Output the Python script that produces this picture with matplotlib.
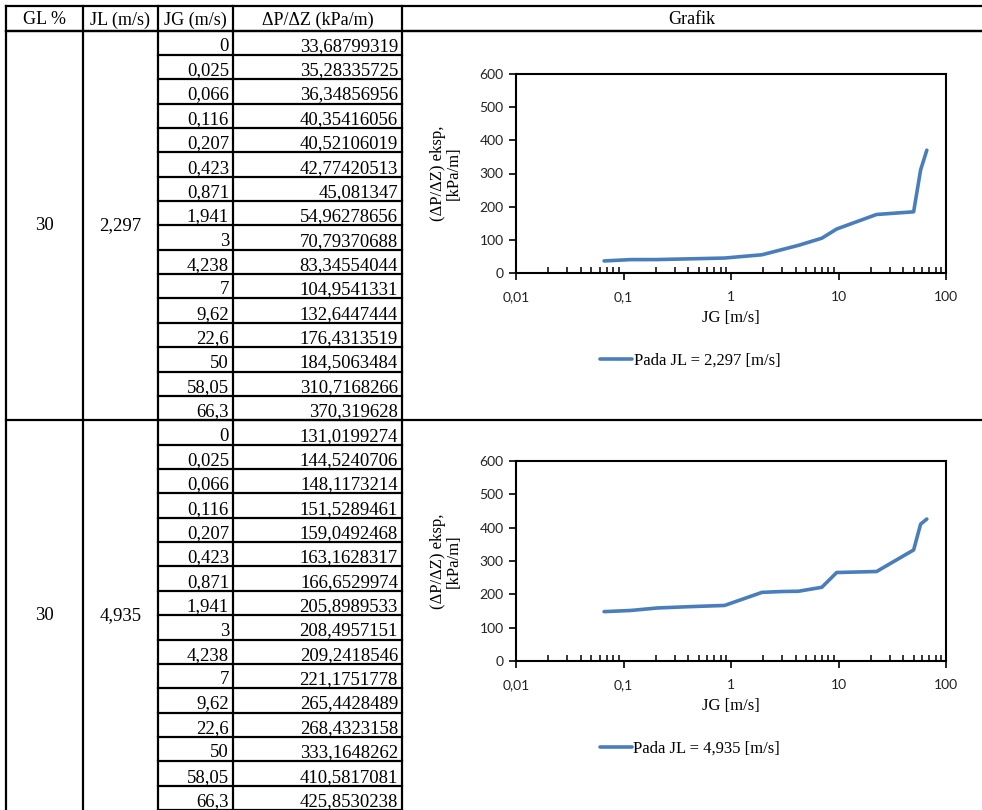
import matplotlib
matplotlib.use('Agg')
import matplotlib.pyplot as plt
from matplotlib.ticker import FixedLocator, FixedFormatter, LogLocator, NullFormatter

# table / chart data
gl = [30, 30]
jl = [2.297, 4.935]
jg = [0, 0.025, 0.066, 0.116, 0.207, 0.423, 0.871, 1.941, 3, 4.238, 7,
      9.62, 22.6, 50, 58.05, 66.3]
dp_a = [33.68799319, 35.28335725, 36.34856956, 40.35416056, 40.52106019,
        42.77420513, 45.081347, 54.96278656, 70.79370688, 83.34554044,
        104.9541331, 132.6447444, 176.4313519, 184.5063484, 310.7168266,
        370.319628]
dp_b = [131.0199274, 144.5240706, 148.1173214, 151.5289461, 159.0492468,
        163.1628317, 166.6529974, 205.8989533, 208.4957151, 209.2418546,
        221.1751778, 265.4428489, 268.4323158, 333.1648262, 410.5817081,
        425.8530238]
headers = ['GL %', 'JL (m/s)', 'JG (m/s)', 'ΔP/ΔZ (kPa/m)', 'Grafik']
x_ticks = [0.01, 0.1, 1, 10, 100]
x_tick_labels = ['0,01', '0,1', '1', '10', '100']
y_ticks = [0, 100, 200, 300, 400, 500, 600]

W, H = 982, 810
SERIF = 'Liberation Serif'
BLUE = '#4a7ebb'

fig = plt.figure(figsize=(W / 100, H / 100), dpi=100)

# background axes in pixel units for the table
bg = fig.add_axes([0, 0, 1, 1])
bg.set_xlim(0, W)
bg.set_ylim(H, 0)
bg.axis('off')

cols = [6, 83, 158, 233, 402, W]
top, head, rh = 5.5, 30.5, 24.36
n = len(jg)
lw = 1.6


def hline(y, x0, x1):
    bg.plot([x0, x1], [y, y], color='black', lw=lw, solid_capstyle='projecting')


def fmt(v):
    return str(v).replace('.', ',')


hline(top, cols[0], W)
hline(head, cols[0], W)
for c in cols[:-1]:
    bg.plot([c, c], [top, H], color='black', lw=lw)

for i, h in enumerate(headers):
    bg.text((cols[i] + cols[i + 1]) / 2, head - 6, h, ha='center', va='baseline',
            fontsize=13, family=SERIF)

for b, dp in enumerate([dp_a, dp_b]):
    y0 = head + b * n * rh
    hline(y0, cols[0], W)
    for r in range(n):
        ybot = y0 + (r + 1) * rh
        hline(ybot, cols[2], cols[4])
        bg.text(cols[3] - 4, ybot - 4, f'{jg[r]:g}'.replace('.', ','),
                ha='right', va='baseline', fontsize=13.5, family=SERIF)
        bg.text(cols[4] - 4, ybot - 4, fmt(dp[r]),
                ha='right', va='baseline', fontsize=13.5, family=SERIF)
    ymid = y0 + n * rh / 2
    bg.text((cols[0] + cols[1]) / 2, ymid, fmt(gl[b]), ha='center', va='center',
            fontsize=13.5, family=SERIF)
    bg.text((cols[1] + cols[2]) / 2, ymid, fmt(jl[b]), ha='center', va='center',
            fontsize=13.5, family=SERIF)

# charts
left, right = 516, 946
boxes = [(74, 273), (461, 661)]
for b, dp in enumerate([dp_a, dp_b]):
    t, btm = boxes[b]
    ax = fig.add_axes([left / W, 1 - btm / H, (right - left) / W, (btm - t) / H])
    ax.plot(jg[2:], dp[2:], color=BLUE, lw=2.6, solid_joinstyle='round',
            solid_capstyle='round', label=f'Pada JL = {fmt(jl[b])} [m/s]')
    ax.set_xscale('log')
    ax.set_xlim(0.01, 100)
    ax.set_ylim(0, 600)
    ax.xaxis.set_major_locator(FixedLocator(x_ticks))
    ax.xaxis.set_major_formatter(FixedFormatter(x_tick_labels))
    ax.xaxis.set_minor_locator(LogLocator(base=10, subs=range(2, 10)))
    ax.xaxis.set_minor_formatter(NullFormatter())
    ax.set_yticks(y_ticks)
    ax.set_yticklabels([str(v) for v in y_ticks])
    for s in ax.spines.values():
        s.set_linewidth(1.5)
        s.set_color('black')
    ax.tick_params(axis='x', which='major', direction='out', length=5, width=1.2,
                   labelsize=10, pad=8, colors='black', labelcolor='#222222')
    ax.tick_params(axis='x', which='minor', direction='in', length=4, width=1.1)
    ax.tick_params(axis='y', which='major', direction='out', length=5, width=1.2,
                   labelsize=10, pad=4, colors='black', labelcolor='#222222')
    for lab in ax.get_xticklabels() + ax.get_yticklabels():
        lab.set_family('Lato')
    ax.set_xlabel('JG [m/s]', fontsize=12, family=SERIF, va='center')
    ax.xaxis.set_label_coords(0.5, -0.226)
    ax.set_ylabel('(ΔP/ΔZ) eksp,\n[kPa/m]', fontsize=12, family=SERIF,
                  va='center', linespacing=0.95)
    ax.yaxis.set_label_coords(-0.163, 0.5)
    ax.legend(loc='center', bbox_to_anchor=(0.405, -0.44), frameon=False,
              prop={'family': SERIF, 'size': 12}, handlelength=1.9,
              handletextpad=0.1, borderaxespad=0)

fig.savefig('out.png', dpi=100)
